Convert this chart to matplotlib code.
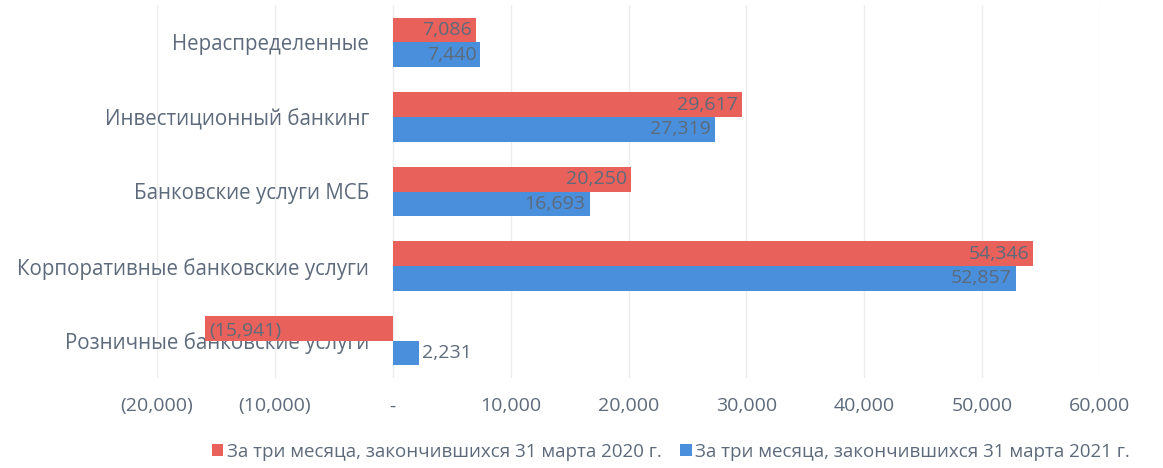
import matplotlib
matplotlib.use("Agg")
import matplotlib.pyplot as plt
import numpy as np

categories = ["Розничные банковские услуги", "Корпоративные банковские услуги",
              "Банковские услуги МСБ", "Инвестиционный банкинг", "Нераспределенные"]
values_2020 = [-15941, 54346, 20250, 29617, 7086]
values_2021 = [2231, 52857, 16693, 27319, 7440]
series_names = ["За три месяца, закончившихся 31 марта 2020 г.",
                "За три месяца, закончившихся 31 марта 2021 г."]
xticks = [-20000, -10000, 0, 10000, 20000, 30000, 40000, 50000, 60000]
xtick_labels = ["(20,000)", "(10,000)", "-", "10,000", "20,000", "30,000", "40,000", "50,000", "60,000"]

plt.rcParams['font.family'] = ['Open Sans', 'DejaVu Sans']
text_col = "#5d6a7c"
red = "#e8615b"
blue = "#4a8fdb"

fig = plt.figure(figsize=(11.63, 4.68), dpi=100)
ax = fig.add_axes([157/1163, 1 - 378/468, (1100-157)/1163, (378-5)/468])
ax.spines['left'].set_position(('data', 0))

y = np.arange(len(categories))
h = 0.33
b1 = ax.barh(y + h/2, values_2020, height=h, color=red, label=series_names[0], zorder=2)
b2 = ax.barh(y - h/2, values_2021, height=h, color=blue, label=series_names[1], zorder=2)

def fmt(v):
    return f"({abs(v):,})" if v < 0 else f"{v:,}"

for bars, vals in ((b1, values_2020), (b2, values_2021)):
    for rect, v in zip(bars, vals):
        cy = rect.get_y() + rect.get_height()/2
        if abs(v) < 4000:
            ax.annotate(fmt(v), (v, cy), xytext=(2, 0), textcoords="offset points",
                        ha="left", va="center", fontsize=14, color=text_col, zorder=4)
        elif v < 0:
            ax.annotate(fmt(v), (v, cy), xytext=(3, -2), textcoords="offset points",
                        ha="left", va="center", fontsize=14, color=text_col, zorder=4)
        else:
            ax.annotate(fmt(v), (v, cy), xytext=(-3, 0), textcoords="offset points",
                        ha="right", va="center", fontsize=14, color=text_col, zorder=4)

ax.set_xlim(-20000, 60000)
ax.set_ylim(-0.5, len(categories) - 0.5)
ax.set_xticks(xticks)
ax.set_xticklabels(xtick_labels, fontsize=14, color=text_col)
ax.set_yticks(y)
ax.set_yticklabels(categories, fontsize=14.8, color=text_col)
for s in ax.spines.values():
    s.set_visible(False)
ax.tick_params(axis='both', length=0)
ax.tick_params(axis='y', pad=17)
ax.tick_params(axis='x', pad=14)
for lbl in ax.get_yticklabels():
    lbl.set_zorder(5)
ax.xaxis.grid(True, color="#ededed", linewidth=1, zorder=0)
ax.set_axisbelow(True)

leg = fig.legend(handles=[b1, b2], loc="center", bbox_to_anchor=(671/1163, 1 - 452/468), ncol=2,
                 frameon=False, fontsize=13.5, handlelength=0.6, handleheight=0.6,
                 handletextpad=0.2, columnspacing=1.0)
for t in leg.get_texts():
    t.set_color(text_col)

fig.savefig("out.png", dpi=100, facecolor="white")
